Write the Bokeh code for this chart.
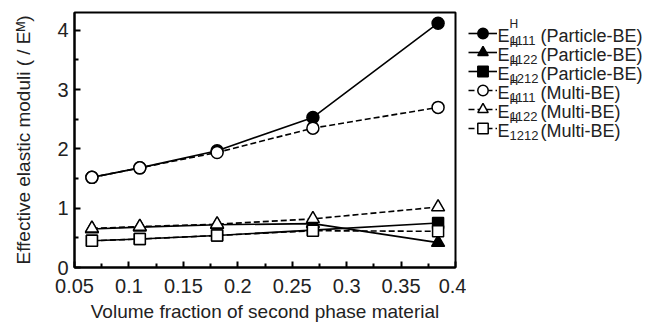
from bokeh.plotting import figure
from bokeh.layouts import row
from bokeh.models import (FixedTicker, CustomJSTickFormatter, Legend, LegendItem, Label)
from bokeh.embed import file_html
from bokeh.resources import INLINE

# ---- data ----
vf = [0.066, 0.110, 0.181, 0.269, 0.384]
p1111 = [1.52, 1.68, 1.97, 2.53, 4.12]
p1122 = [0.65, 0.68, 0.72, 0.74, 0.42]
p1212 = [0.45, 0.48, 0.54, 0.63, 0.75]
m1111 = [1.52, 1.68, 1.94, 2.35, 2.70]
m1122 = [0.66, 0.69, 0.73, 0.82, 1.02]
m1212 = [0.45, 0.48, 0.54, 0.62, 0.61]
series_sub = ["1111", "1122", "1212", "1111", "1122", "1212"]
series_src = ["(Particle-BE)", "(Particle-BE)", "(Particle-BE)",
              "(Multi-BE)", "(Multi-BE)", "(Multi-BE)"]
x_ticks = [0.05, 0.1, 0.15, 0.2, 0.25, 0.3, 0.35, 0.4]
y_ticks = [0, 1, 2, 3, 4]

FONT = "Liberation Sans"
TXT = "#222222"

p = figure(width=466, height=325, output_backend="svg", toolbar_location=None,
           x_range=(0.05, 0.4), y_range=(0, 4.3),
           min_border_left=74, min_border_right=11, min_border_top=12,
           min_border_bottom=58)
p.grid.visible = False
p.outline_line_color = "black"
p.outline_line_width = 2

for ax in (p.xaxis[0], p.yaxis[0]):
    ax.axis_line_width = 2
    ax.major_tick_in = 6
    ax.major_tick_out = 0
    ax.minor_tick_in = 4
    ax.minor_tick_out = 0
    ax.major_tick_line_width = 2
    ax.minor_tick_line_width = 2
    ax.major_label_text_font = FONT
    ax.major_label_text_font_size = "20px"
    ax.major_label_text_color = TXT
    ax.axis_label_text_font = FONT
    ax.axis_label_text_font_style = "normal"
    ax.axis_label_text_font_size = "19px"
    ax.axis_label_text_color = TXT

p.xaxis.ticker = FixedTicker(ticks=x_ticks,
                             minor_ticks=[0.075 + 0.05 * i for i in range(7)])
p.xaxis.formatter = CustomJSTickFormatter(code="return String(parseFloat(tick.toFixed(3)));")
p.yaxis.ticker = FixedTicker(ticks=y_ticks, minor_ticks=[0.5, 1.5, 2.5, 3.5])
p.xaxis.axis_label = "Volume fraction of second phase material"
p.yaxis.axis_label = "Effective elastic moduli ( / E\u1d39)"
p.xaxis.major_label_standoff = 11
p.xaxis.axis_label_standoff = 5
p.yaxis.major_label_standoff = 6
p.yaxis.axis_label_standoff = 20

LW = 1.6
specs = [
    (p1111, "circle", "black", "solid", 12),
    (p1122, "triangle", "black", "solid", 13),
    (p1212, "square", "black", "solid", 11),
    (m1111, "circle", "white", "6 3", 12),
    (m1122, "triangle", "white", "6 3", 13),
    (m1212, "square", "white", "6 3", 11),
]

# legend panel as a second, axis-less figure (its frame aligns with p's frame)
lp = figure(width=180, height=325, output_backend="svg", toolbar_location=None,
            x_range=(0, 1), y_range=(0, 1), min_border=0,
            x_axis_location=None, y_axis_location=None)
lp.grid.visible = False
lp.outline_line_color = None

BASE = 267        # frame bottom (px from top of page)
GH = 26           # legend glyph box height (sets legend marker size)
PITCH = 19        # row pitch
top0 = 33         # centre of first row (px from top)

def lab(txt, sx, sy_top, size):
    lp.add_layout(Label(x=sx, y=BASE - sy_top, x_units="screen", y_units="screen",
                        text=txt, text_font=FONT, text_font_size=size,
                        text_baseline="middle", text_color=TXT))

for i, (ys, mk, fill, dash, sz) in enumerate(specs):
    p.line(vf, ys, line_color="black", line_width=LW, line_dash=dash)
    p.scatter(vf, ys, marker=mk, size=sz, fill_color=fill,
              line_color="black", line_width=1.5)
    ln = lp.line(vf, ys, line_color="black", line_width=LW, line_dash=dash, visible=False)
    sc = lp.scatter(vf, ys, marker=mk, size=sz, fill_color=fill,
                    line_color="black", line_width=1.5, visible=False)
    yc = top0 + PITCH * i
    leg = Legend(items=[LegendItem(label=" ", renderers=[ln, sc])],
                 location=(2, BASE - (yc + GH / 2)),
                 padding=0, margin=0, spacing=0, glyph_width=29,
                 glyph_height=GH, label_height=GH,
                 label_text_font_size="6px", label_standoff=0,
                 border_line_color=None, background_fill_alpha=0)
    lp.add_layout(leg, "center")
    lab("E", 31, yc + 2.5, "18px")
    lab("H", 43, yc - 10, "12px")
    lab(series_sub[i], 43, yc + 6.5, "13px")
    lab(series_src[i], 74, yc + 2.5, "18px")

open("out.html", "w").write(file_html(row(p, lp), INLINE))
